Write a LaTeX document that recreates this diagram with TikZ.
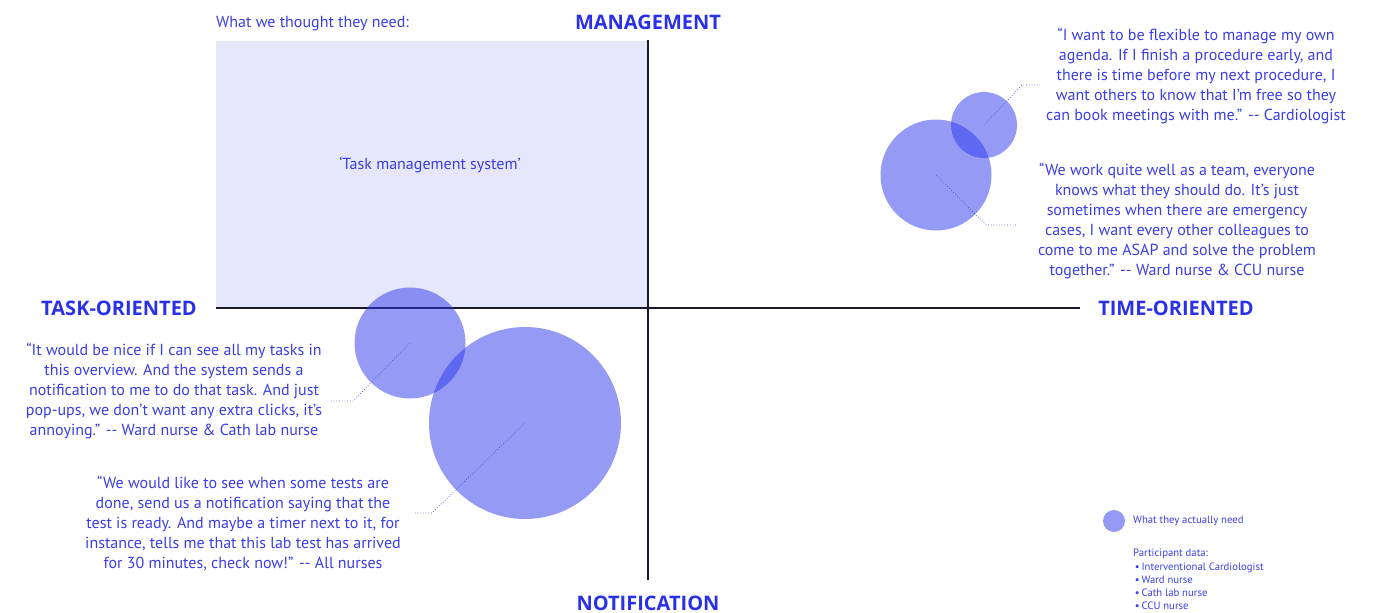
\documentclass[tikz,border=0pt]{standalone}
\usepackage{fontspec}
\setmainfont{PT Sans}
\newfontfamily\headfont{Open Sans}
\definecolor{tblue}{RGB}{58,62,228}
\definecolor{hblue}{RGB}{42,48,232}
\definecolor{cblue}{RGB}{43,55,235}
\definecolor{rectfill}{RGB}{230,231,251}
\definecolor{axis}{RGB}{26,26,40}
\definecolor{leader}{RGB}{70,76,225}
\begin{document}
\begin{tikzpicture}[x=1pt,y=-1pt,
  quote/.style={text=tblue,align=center,inner sep=0pt,font=\fontsize{16}{20}\selectfont},
  head/.style={text=hblue,inner sep=0pt,font=\headfont\fontsize{20}{24}\selectfont\bfseries},
  need/.style={circle,fill=cblue,fill opacity=0.5,draw=none,inner sep=0pt},
  lead/.style={draw=leader,line width=0.7pt,dotted},
  axisline/.style={draw=axis,line width=1.8pt},
  small/.style={text=tblue,inner sep=0pt,anchor=west,font=\fontsize{10.7}{13.3}\selectfont}]
\useasboundingbox (0,0) rectangle (1379,613);
% thought rectangle
\node[fill=rectfill,minimum width=431pt,minimum height=267pt,inner sep=0pt,anchor=north west] (rect) at (216,41) {};
\node[text=tblue,inner sep=0pt,font=\fontsize{16}{18}\selectfont] (tms) at (430,165) {‘Task management system’};
\node[text=tblue,inner sep=0pt,anchor=west,font=\fontsize{16}{18}\selectfont] (thought) at (216,24) {What we thought they need:};
% axes
\coordinate (xl) at (216,308);
\coordinate (xr) at (1080,308);
\coordinate (yt) at (648,40);
\coordinate (yb) at (648,580);
\draw[axisline] (xl) -- (xr);
\draw[axisline] (yt) -- (yb);
% headings
\node[head] (mgmt) at (648,22) {MANAGEMENT};
\node[head] (task) at (119,308) {TASK-ORIENTED};
\node[head] (time) at (1176,308) {TIME-ORIENTED};
\node[head] (notif) at (648,603) {NOTIFICATION};
% circles
\node[need,minimum size=66pt] (c1) at (984,125) {};
\node[need,minimum size=111pt] (c2) at (936,175) {};
\node[need,minimum size=111pt] (c3) at (410,343) {};
\node[need,minimum size=192pt] (c4) at (525,423) {};
% leaders
\coordinate (b1) at (1022,85); \coordinate (e1) at (1040,85);
\coordinate (b2) at (986,225); \coordinate (e2) at (1016,225);
\coordinate (b3) at (353,401); \coordinate (e3) at (331,401);
\coordinate (b4) at (432,513); \coordinate (e4) at (413,513);
\draw[lead] (c1.center) -- (b1) -- (e1);
\draw[lead] (c2.center) -- (b2) -- (e2);
\draw[lead] (c3.center) -- (b3) -- (e3);
\draw[lead] (c4.center) -- (b4) -- (e4);
% quotes
\node[quote] (q1) at (1196,76) {“I want to be flexible to manage my own\\agenda. If I finish a procedure early, and\\there is time before my next procedure, I\\want others to know that I’m free so they\\can book meetings with me.” -{}- Cardiologist};
\node[quote] (q2) at (1177,221) {“We work quite well as a team, everyone\\knows what they should do. It’s just\\sometimes when there are emergency\\cases, I want every other colleagues to\\come to me ASAP and solve the problem\\together.” -{}- Ward nurse \& CCU nurse};
\node[quote] (q3) at (174,391) {“It would be nice if I can see all my tasks in\\this overview. And the system sends a\\notification to me to do that task. And just\\pop-ups, we don’t want any extra clicks, it’s\\annoying.” -{}- Ward nurse \& Cath lab nurse};
\node[quote] (q4) at (243,523) {“We would like to see when some tests are\\done, send us a notification saying that the\\test is ready. And maybe a timer next to it, for\\instance, tells me that this lab test has arrived\\for 30 minutes, check now!” -{}- All nurses};
% legend
\node[need,minimum size=22pt] (lc) at (1114,521) {};
\node[small] (lt) at (1133,521) {What they actually need};
\node[small,anchor=north west,align=left] (pd) at (1133,549) {Participant data:\\\,•\,Interventional Cardiologist\\\,•\,Ward nurse\\\,•\,Cath lab nurse\\\,•\,CCU nurse};
\end{tikzpicture}
\end{document}
